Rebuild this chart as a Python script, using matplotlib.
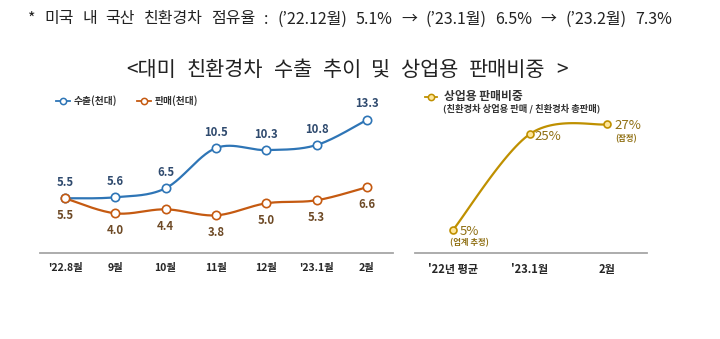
import numpy as np
import matplotlib
matplotlib.use("Agg")
import matplotlib.pyplot as plt
from matplotlib.transforms import offset_copy

plt.rcParams['font.family'] = ['Noto Sans CJK KR', 'DejaVu Sans']

# ---------------- data ----------------
months = ["'22.8월", "9월", "10월", "11월", "12월", "'23.1월", "2월"]
exports = [5.5, 5.6, 6.5, 10.5, 10.3, 10.8, 13.3]
sales = [5.5, 4.0, 4.4, 3.8, 5.0, 5.3, 6.6]
share_cats = ["'22년 평균", "'23.1월", "2월"]
share_vals = [5, 25, 27]
share_notes = ["(업계 추정)", "", "(잠정)"]
header = "* 미국 내 국산 친환경차 점유율 : (\u201922.12월) 5.1% \u2192 (\u201923.1월) 6.5% \u2192 (\u201923.2월) 7.3%"
title = "<대미 친환경차 수출 추이 및 상업용 판매비중 >"

W, H = 720, 339
fig = plt.figure(figsize=(W / 100, H / 100), dpi=100)
renderer = fig.canvas.get_renderer()


def ax_at(l, r, t, b):
    return fig.add_axes([l / W, 1 - b / H, (r - l) / W, (b - t) / H])


def spread_text(s, x0, x1, y, **kw):
    """Place words of s so that the line spans from x0 to x1 pixels."""
    words = s.split(' ')
    arts = [fig.text(0, 1 - y / H, w, va='center', ha='left', **kw) for w in words]
    widths = [a.get_window_extent(renderer).width for a in arts]
    gap = ((x1 - x0) - sum(widths)) / (len(words) - 1)
    cur = x0
    for a, w in zip(arts, widths):
        a.set_x(cur / W)
        cur += w + gap


def smooth(x, y, n=30):
    x = np.asarray(x, float)
    y = np.asarray(y, float)
    xs, ys = [], []
    m = len(x)
    for i in range(m - 1):
        p0 = np.array([x[max(i - 1, 0)], y[max(i - 1, 0)]])
        p1 = np.array([x[i], y[i]])
        p2 = np.array([x[i + 1], y[i + 1]])
        p3 = np.array([x[min(i + 2, m - 1)], y[min(i + 2, m - 1)]])
        t = np.linspace(0, 1, n)[:, None]
        pts = 0.5 * ((2 * p1) + (-p0 + p2) * t + (2 * p0 - 5 * p1 + 4 * p2 - p3) * t ** 2
                     + (-p0 + 3 * p1 - 3 * p2 + p3) * t ** 3)
        xs.extend(pts[:, 0])
        ys.extend(pts[:, 1])
    return np.array(xs), np.array(ys)


def style_axes(ax):
    for s in ['top', 'right', 'left']:
        ax.spines[s].set_visible(False)
    ax.spines['bottom'].set_color('#a6a6a6')
    ax.spines['bottom'].set_linewidth(1.3)
    ax.set_yticks([])
    ax.tick_params(axis='x', length=0, pad=7)
    ax.patch.set_alpha(0)


# ---------------- header texts ----------------
spread_text(header, 28, 672, 19, fontsize=11.5, color='#222222')
spread_text(title, 126, 568, 70, fontsize=15, color='#222222')

# ---------------- left chart ----------------
BLUE = '#2e75b6'
ORANGE = '#c55a11'
ax1 = ax_at(40, 393, 85, 253)
x = np.arange(len(months))
sx, sy = smooth(x, exports)
ax1.plot(sx, sy, color=BLUE, lw=1.6, solid_capstyle='round', zorder=2)
ax1.plot(x, exports, 'o', ms=6, mfc='white', mec=BLUE, mew=1.2, zorder=3)
sx, sy = smooth(x, sales)
ax1.plot(sx, sy, color=ORANGE, lw=1.6, solid_capstyle='round', zorder=2)
ax1.plot(x, sales, 'o', ms=6, mfc='white', mec=ORANGE, mew=1.2, zorder=3)
ax1.set_xlim(-0.497, 6.52)
ax1.set_ylim(0.05, 16.78)
ax1.set_xticks(x)
ax1.set_xticklabels(months, fontsize=7.5, fontweight='bold', color='#262626')
style_axes(ax1)

up = offset_copy(ax1.transData, fig=fig, x=0, y=16, units='dots')
dn = offset_copy(ax1.transData, fig=fig, x=0, y=-17, units='dots')
for xi, v in zip(x, exports):
    ax1.text(xi, v, f"{v:.1f}", transform=up, ha='center', va='center',
             fontsize=8.2, fontweight='bold', color='#2f4a6e')
for xi, v in zip(x, sales):
    ax1.text(xi, v, f"{v:.1f}", transform=dn, ha='center', va='center',
             fontsize=8.2, fontweight='bold', color='#6e4a26')

# legend (left)
for cx, col, lab in [(63, BLUE, "수출(천대)"), (144, ORANGE, "판매(천대)")]:
    fig.add_artist(plt.Line2D([(cx - 7) / W, (cx + 7) / W], [1 - 101 / H] * 2,
                              color=col, lw=1.3, transform=fig.transFigure))
    fig.add_artist(plt.Line2D([cx / W], [1 - 101 / H], marker='o', ms=4.5,
                              mfc='white', mec=col, mew=1.1, transform=fig.transFigure))
    fig.text((cx + 11) / W, 1 - 101 / H, lab, fontsize=7, fontweight='bold',
             color='#333333', va='center', ha='left')

# ---------------- right chart ----------------
GOLD = '#bf9000'
ax2 = ax_at(415, 647, 85, 253)
x2 = np.arange(len(share_cats))
sx, sy = smooth(x2, share_vals)
ax2.plot(sx, sy, color=GOLD, lw=1.6, zorder=2)
ax2.plot(x2, share_vals, 'o', ms=5, mfc='#ffe699', mec=GOLD, mew=1.2, zorder=3)
ax2.set_xlim(-0.494, 2.52)
ax2.set_ylim(0.2, 35.2)
ax2.set_xticks(x2)
ax2.set_xticklabels(share_cats, fontsize=8, fontweight='bold', color='#262626')
style_axes(ax2)

LBL = '#8f6f12'
val_off = [(16, -2), (18, -3), (21, -1)]
note_off = [(16, -13), (0, 0), (19, -14)]
for xi, v, note, vo, no in zip(x2, share_vals, share_notes, val_off, note_off):
    tr = offset_copy(ax2.transData, fig=fig, x=vo[0], y=vo[1], units='dots')
    ax2.text(xi, v, f"{v}%", transform=tr, ha='center', va='center',
             fontsize=9.5, color=LBL)
    if note:
        tr2 = offset_copy(ax2.transData, fig=fig, x=no[0], y=no[1], units='dots')
        ax2.text(xi, v, note, transform=tr2, ha='center', va='center',
                 fontsize=6, fontweight='bold', color=LBL)

# legend (right)
cx = 431
fig.add_artist(plt.Line2D([(cx - 6) / W, (cx + 6) / W], [1 - 97 / H] * 2,
                          color=GOLD, lw=1.3, transform=fig.transFigure))
fig.add_artist(plt.Line2D([cx / W], [1 - 97 / H], marker='o', ms=4.5,
                          mfc='#ffe699', mec=GOLD, mew=1.1, transform=fig.transFigure))
fig.text(444 / W, 1 - 97 / H, "상업용 판매비중", fontsize=8.5, fontweight='bold',
         color='#333333', va='center', ha='left')
fig.text(443 / W, 1 - 108 / H, "(친환경차 상업용 판매 / 친환경차 총판매)", fontsize=6.7,
         fontweight='bold', color='#333333', va='center', ha='left')

fig.savefig('out.png', dpi=100, facecolor='white')
